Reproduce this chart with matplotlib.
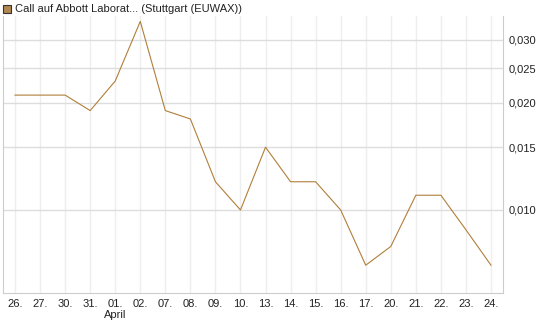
import matplotlib
matplotlib.use("Agg")
import matplotlib.pyplot as plt
from matplotlib.ticker import FixedLocator, FuncFormatter, NullLocator
from matplotlib.patches import Rectangle

dates = ["26.", "27.", "30.", "31.", "01.", "02.", "07.", "08.", "09.", "10.",
         "13.", "14.", "15.", "16.", "17.", "20.", "21.", "22.", "23.", "24."]
values = [0.021, 0.021, 0.021, 0.019, 0.023, 0.0338, 0.019, 0.018, 0.012, 0.010,
          0.015, 0.012, 0.012, 0.010, 0.0070, 0.0079, 0.011, 0.011, 0.0088, 0.0070]
y_ticks = [0.010, 0.015, 0.020, 0.025, 0.030]
title = "Call auf Abbott Laborat... (Stuttgart (EUWAX))"
month_label = "April"
month_index = 4

plt.rcParams['font.family'] = ['Liberation Sans', 'DejaVu Sans']
line_color = '#B07F3A'

fig = plt.figure(figsize=(5.45, 3.27), dpi=100)
ax = fig.add_axes([3/545, 34/327, 500/545, 277/327])
x = list(range(len(dates)))
ax.plot(x, values, color=line_color, lw=0.8)
ax.set_yscale('log')
ax.set_ylim(0.00585, 0.0350)
ax.set_xlim(-0.48, len(dates) - 1 + 0.48)
ax.yaxis.set_major_locator(FixedLocator(y_ticks))
ax.yaxis.set_minor_locator(NullLocator())
ax.yaxis.set_major_formatter(FuncFormatter(lambda v, p: f"{v:.3f}".replace('.', ',')))
ax.yaxis.tick_right()
ax.set_xticks(x)
ax.set_xticklabels(dates)
ax.tick_params(axis='both', length=0, labelsize=8, colors='#222222')
ax.tick_params(axis='x', pad=4)
ax.tick_params(axis='y', pad=4)
ax.grid(axis='y', color='#dddddd', lw=1)
ax.grid(axis='x', color='#eeeeee', lw=1)
ax.set_axisbelow(True)
for s in ['left', 'bottom', 'right']:
    ax.spines[s].set_color('#cccccc')
ax.spines['top'].set_visible(False)

ax.text(month_index, -0.060, month_label, transform=ax.get_xaxis_transform(),
        ha='center', va='top', fontsize=8, color='#222222')

fig.patches.append(Rectangle((3/545, 1 - 13/327), 8/545, 8/327, transform=fig.transFigure,
                             facecolor='#B08850', edgecolor='#333333', lw=0.8))
fig.text(15/545, 1 - 8.5/327, title, ha='left', va='center', fontsize=8, color='#222222')

fig.savefig("out.png", dpi=100)
